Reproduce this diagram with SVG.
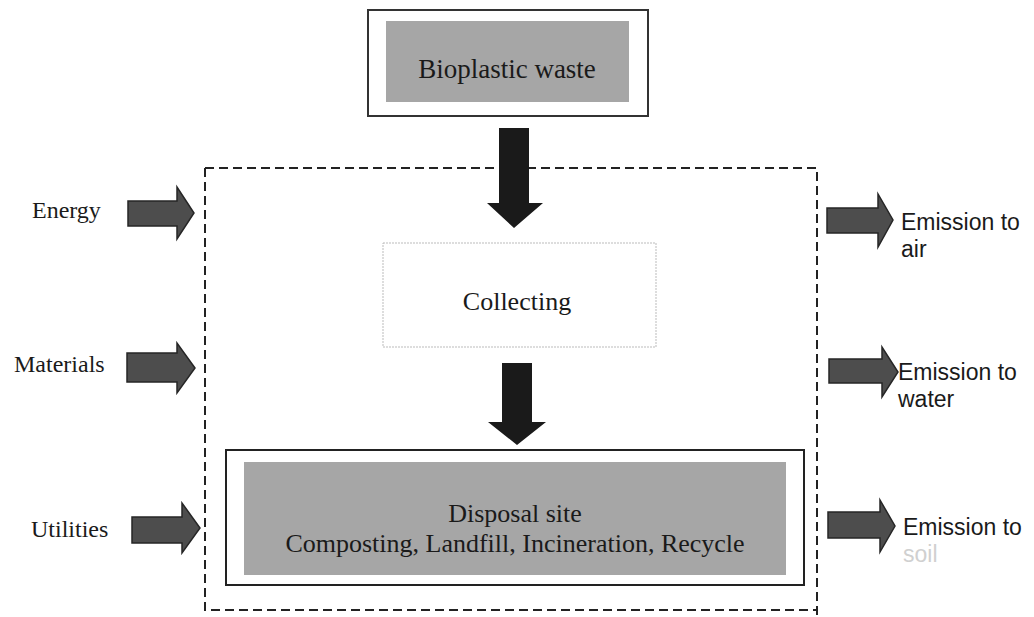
<svg xmlns="http://www.w3.org/2000/svg" width="1034" height="617" viewBox="0 0 1034 617">
<style>
.serif{font-family:"Liberation Serif","Times New Roman",serif;font-size:26px;fill:#1a1a1a}
.sans{font-family:"Liberation Sans",Arial,sans-serif;font-size:23px;fill:#1a1a1a}
.fat{fill:#4d4d4d;stroke:#262626;stroke-width:1.5}
.down{fill:#1a1a1a}
.gray{fill:#a6a6a6}
</style>
<rect width="1034" height="617" fill="#fff"/>
<g id="boundary">
<path d="M205,168 H817 V617 M205,168 V610 H817" fill="none" stroke="#222" stroke-width="2" stroke-dasharray="9,5"/>
</g>
<g id="bioplastic">
<rect x="368" y="10" width="280" height="106" fill="#fff" stroke="#333" stroke-width="2"/>
<rect x="386" y="21" width="243" height="81" class="gray"/>
<text x="507" y="78" text-anchor="middle" class="serif" style="font-size:27px">Bioplastic waste</text>
</g>
<g id="collecting">
<rect x="383" y="243" width="273" height="104" fill="#fff" stroke="#bbb" stroke-width="1" stroke-dasharray="2,1"/>
<text x="517" y="310" text-anchor="middle" class="serif">Collecting</text>
</g>
<g id="disposal">
<rect x="226" y="450" width="578" height="135" fill="#fff" stroke="#222" stroke-width="2"/>
<rect x="244" y="462" width="542" height="113" class="gray"/>
<text x="515" y="522" text-anchor="middle" class="serif">Disposal site</text>
<text x="515" y="552" text-anchor="middle" class="serif">Composting, Landfill, Incineration, Recycle</text>
</g>
<g id="energy"><text x="32" y="218" class="serif" style="font-size:24px">Energy</text></g>
<g id="materials"><text x="14" y="372" class="serif" style="font-size:24px">Materials</text></g>
<g id="utilities"><text x="31" y="537" class="serif" style="font-size:24px">Utilities</text></g>
<g id="air"><text x="901" y="230" class="sans">Emission to</text><text x="901" y="257" class="sans">air</text></g>
<g id="water"><text x="898" y="380" class="sans">Emission to</text><text x="898" y="407" class="sans">water</text></g>
<g id="soil"><text x="903" y="535" class="sans">Emission to</text><text x="903" y="562" class="sans" style="fill:#d0d0d0">soil</text></g>
<g id="connectors">
<polygon class="down" points="499,128 529,128 529,203 543,203 514,228 487,203 499,203"/>
<polygon class="down" points="502,363 532,363 532,422 546,422 517,445 488,422 502,422"/>
<polygon class="fat" points="128,201 177,201 177,187 194,213 177,239 177,226 128,226"/>
<polygon class="fat" points="127,353 177,353 177,343 195,368 177,393 177,382 127,382"/>
<polygon class="fat" points="132,517 182,517 182,503 200,528 182,553 182,543 132,543"/>
<polygon class="fat" points="827,208 878,208 878,194 893,220 878,247 878,233 827,233"/>
<polygon class="fat" points="829,359 882,359 882,347 898,372 882,397 882,383 829,383"/>
<polygon class="fat" points="828,512 880,512 880,500 895,526 880,552 880,538 828,538"/>
</g>
</svg>
